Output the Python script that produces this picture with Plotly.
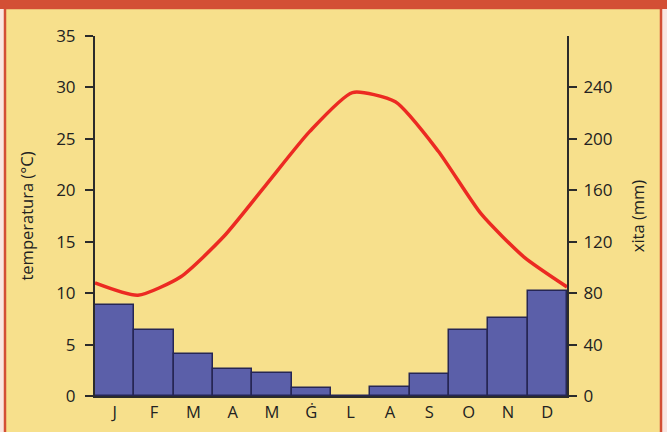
import plotly.graph_objects as go

# Climate chart data
months = ['J', 'F', 'M', 'A', 'M', 'Ġ', 'L', 'A', 'S', 'O', 'N', 'D']
rain_mm = [71, 51, 33, 21, 18, 6.5, 0, 7, 17, 51, 61, 82]
temp_c = [11.0, 9.8, 11.6, 15.5, 20.6, 25.7, 29.5, 28.6, 23.8, 17.7, 13.5, 10.6]
temp_ticks = [0, 5, 10, 15, 20, 25, 30, 35]
rain_ticks = [0, 40, 80, 120, 160, 200, 240]

W, H = 667, 432
L, R, T, B = 95, 100, 36, 36
pw, ph = W - L - R, H - T - B


def px(x):
    return (x - L) / pw


def py(y):
    return (H - B - y) / ph


beige = '#f7e08c'
red_frame = '#d34f35'
axis_col = '#2b2b2b'
font = dict(family='Open Sans', size=17, color='#222222')

fig = go.Figure()

# precipitation bars (right axis)
fig.add_trace(go.Bar(
    x=list(range(12)),
    y=rain_mm,
    width=1,
    marker=dict(color='#5b5fa9', line=dict(color='#262654', width=1.5)),
    xaxis='x', yaxis='y',
    showlegend=False,
))

# temperature line (left axis)
fig.add_trace(go.Scatter(
    x=list(range(12)),
    y=temp_c,
    mode='lines',
    line=dict(color='#ec2a22', width=3.5, shape='spline', smoothing=0.6),
    xaxis='x2', yaxis='y2',
    showlegend=False,
))

fig.update_layout(
    width=W, height=H,
    margin=dict(l=L, r=R, t=T, b=B, autoexpand=False),
    paper_bgcolor='#fae6e1',
    plot_bgcolor='rgba(0,0,0,0)',
    font=font,
    bargap=0,
    xaxis=dict(
        range=[-0.5, 11.5], tickvals=list(range(12)), ticktext=months,
        showgrid=False, zeroline=False, showline=True, linecolor=axis_col,
        linewidth=1.5, ticks='', tickfont=dict(size=16.5),
        fixedrange=True,
    ),
    xaxis2=dict(range=[0, 11], overlaying='x', visible=False, anchor='y2'),
    yaxis=dict(
        side='right', range=[0, 280], tickvals=rain_ticks,
        showgrid=False, zeroline=False, showline=True, linecolor=axis_col,
        linewidth=2, ticks='outside', ticklen=8, tickwidth=2, tickcolor=axis_col,
        ticklabelstandoff=3,
        title=dict(text='xita (mm)', font=dict(size=16.5), standoff=21),
        automargin=False,
    ),
    yaxis2=dict(
        side='left', overlaying='y', range=[0, 35], tickvals=temp_ticks,
        showgrid=False, zeroline=False, showline=True, linecolor=axis_col,
        linewidth=2, ticks='outside', ticklen=8, tickwidth=2, tickcolor=axis_col,
        ticklabelstandoff=6,
        title=dict(text='temperatura (°C)', font=dict(size=16.5), standoff=18),
        automargin=False,
    ),
    shapes=[
        # beige panel with red frame
        dict(type='rect', xref='paper', yref='paper', layer='below',
             x0=px(5), x1=px(661), y0=py(445), y1=py(8),
             fillcolor=beige, line=dict(color=red_frame, width=2.5)),
        # red band on top
        dict(type='rect', xref='paper', yref='paper', layer='below',
             x0=px(0), x1=px(667), y0=py(9), y1=py(0),
             fillcolor=red_frame, line=dict(width=0)),
    ],
)

fig.write_html('out.html', config={'displayModeBar': False},
               post_script="document.body.style.margin='0';")
